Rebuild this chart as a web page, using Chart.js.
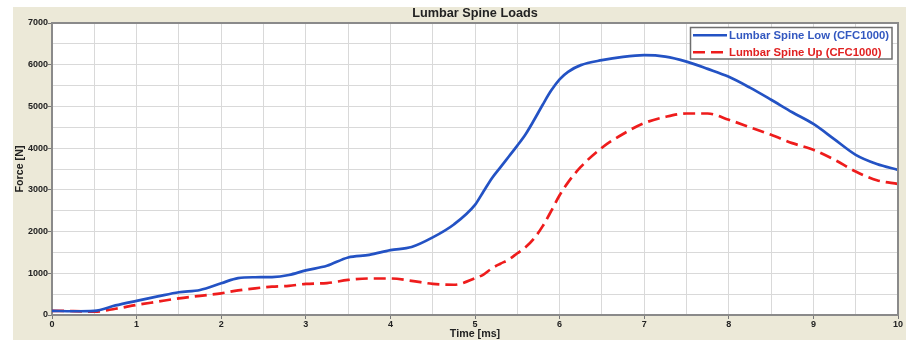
<!DOCTYPE html>
<html>
<head>
<meta charset="utf-8">
<script src="https://cdn.jsdelivr.net/npm/chart.js@4/dist/chart.umd.min.js"></script>
<style>
  html, body { margin: 0; padding: 0; background: #ffffff; }
  #panel { position: absolute; left: 13px; top: 7px; width: 893px; height: 333px; background: #ece9d8; }
  canvas { display: block; }
</style>
</head>
<body>
<div id="panel"><canvas id="chart" width="893" height="333"></canvas></div>
<script>
// Sample times (ms) shared by both load channels
const timeMs = [0, 0.25, 0.5, 0.75, 1, 1.25, 1.5, 1.75, 2, 2.2, 2.4, 2.6, 2.8, 3, 3.25, 3.5, 3.75, 4, 4.25, 4.5, 4.75,
  5, 5.1, 5.2, 5.3, 5.4, 5.5, 5.6, 5.7, 5.8, 5.9, 6, 6.1, 6.25, 6.5, 6.75, 7, 7.25, 7.5, 7.75, 8, 8.25, 8.5, 8.75,
  9, 9.25, 9.5, 9.75, 10];

// Lumbar spine lower load cell, force in N
const lowForce = [100, 90, 100, 230, 340, 445, 545, 600, 760, 885, 905, 910, 960, 1070, 1180, 1380, 1440, 1555, 1630, 1860, 2170,
  2640, 2960, 3280, 3540, 3800, 4060, 4340, 4680, 5040, 5380, 5650, 5830, 5990, 6110, 6190, 6230, 6195, 6075, 5900, 5710, 5450, 5160, 4860,
  4580, 4210, 3840, 3620, 3480];

// Lumbar spine upper load cell, force in N
const upForce = [100, 95, 80, 150, 240, 320, 400, 460, 520, 590, 640, 680, 700, 745, 765, 840, 875, 875, 820, 745, 725,
  880, 970, 1120, 1230, 1330, 1480, 1630, 1840, 2130, 2490, 2870, 3180, 3550, 4010, 4340, 4600, 4750, 4830, 4830, 4680, 4500, 4320, 4120,
  3960, 3720, 3440, 3230, 3140];

const seriesLabels = ['Lumbar Spine Low (CFC1000)', 'Lumbar Spine Up (CFC1000)'];
const chartTitle = 'Lumbar Spine Loads';
const xTitle = 'Time [ms]';
const yTitle = 'Force [N]';

const FONT = '"Liberation Sans", Arial, sans-serif';

const toPoints = (ys) => timeMs.map((t, i) => ({ x: t, y: ys[i] }));

// White plot background, plot frame, title and boxed legend
const framePlugin = {
  id: 'frame',
  beforeDraw(chart) {
    const { ctx, chartArea: a } = chart;
    ctx.save();
    ctx.fillStyle = '#ffffff';
    ctx.fillRect(a.left, a.top, a.right - a.left, a.bottom - a.top);
    ctx.restore();
  },
  afterDraw(chart) {
    const { ctx, chartArea: a } = chart;
    ctx.save();
    // top and right edges of the plot frame
    ctx.strokeStyle = '#8a8a8a';
    ctx.lineWidth = 2;
    ctx.beginPath();
    ctx.moveTo(a.left, a.top);
    ctx.lineTo(a.right, a.top);
    ctx.lineTo(a.right, a.bottom);
    ctx.stroke();

    // title
    ctx.fillStyle = '#222222';
    ctx.font = 'bold 12.7px ' + FONT;
    ctx.textAlign = 'center';
    ctx.textBaseline = 'middle';
    ctx.fillText(chartTitle, (a.left + a.right) / 2, 6.5);

    // legend box
    const bx = 677.5, by = 20.5, bw = 201.5, bh = 31.5;
    ctx.fillStyle = '#ffffff';
    ctx.fillRect(bx, by, bw, bh);
    ctx.strokeStyle = '#6e6e6e';
    ctx.lineWidth = 1.5;
    ctx.strokeRect(bx, by, bw, bh);

    const rows = [28.3, 45.2];
    const textColors = ['#3358c0', '#e02020'];
    chart.data.datasets.forEach((ds, i) => {
      const y = rows[i];
      ctx.strokeStyle = ds.borderColor;
      ctx.lineWidth = 2.5;
      ctx.setLineDash(ds.borderDash || []);
      ctx.beginPath();
      ctx.moveTo(680, y);
      ctx.lineTo(714, y);
      ctx.stroke();
      ctx.setLineDash([]);
      ctx.fillStyle = textColors[i];
      ctx.font = 'bold 11.3px ' + FONT;
      ctx.textAlign = 'left';
      ctx.textBaseline = 'middle';
      ctx.fillText(ds.label, 716, y + 0.5);
    });
    ctx.restore();
  }
};

new Chart(document.getElementById('chart'), {
  type: 'line',
  data: {
    datasets: [
      {
        label: seriesLabels[0],
        data: toPoints(lowForce),
        borderColor: '#2352c4',
        borderWidth: 2.7,
        pointRadius: 0,
        cubicInterpolationMode: 'monotone',
        fill: false
      },
      {
        label: seriesLabels[1],
        data: toPoints(upForce),
        borderColor: '#ee1c1c',
        borderWidth: 2.7,
        borderDash: [12, 6],
        pointRadius: 0,
        cubicInterpolationMode: 'monotone',
        fill: false
      }
    ]
  },
  options: {
    responsive: false,
    animation: false,
    layout: { padding: { top: 16, right: 8, left: 0, bottom: 0 } },
    plugins: {
      legend: { display: false },
      title: { display: false },
      tooltip: { enabled: false }
    },
    scales: {
      x: {
        type: 'linear',
        min: 0,
        max: 10,
        afterFit(scale) { scale.height = 25; },
        ticks: {
          stepSize: 0.5,
          autoSkip: false,
          maxRotation: 0,
          padding: 0,
          color: '#222222',
          font: { family: FONT, size: 9, weight: 'bold' },
          callback: (v) => Number.isInteger(v) ? String(v) : ''
        },
        grid: {
          color: '#d9d9d9',
          lineWidth: 1,
          tickLength: 4,
          tickColor: (c) => (c.tick && Number.isInteger(c.tick.value)) ? '#777777' : 'rgba(0,0,0,0)'
        },
        border: { display: true, color: '#8a8a8a', width: 2 },
        title: {
          display: true,
          text: xTitle,
          color: '#222222',
          padding: { top: 0, bottom: 0 },
          font: { family: FONT, size: 10.7, weight: 'bold' }
        }
      },
      y: {
        min: 0,
        max: 7000,
        afterFit(scale) { scale.width = 39; },
        ticks: {
          stepSize: 500,
          autoSkip: false,
          padding: 0,
          color: '#222222',
          font: { family: FONT, size: 9, weight: 'bold' },
          callback: (v) => v % 1000 === 0 ? String(v) : ''
        },
        grid: {
          color: '#d9d9d9',
          lineWidth: 1,
          tickLength: 4,
          tickColor: (c) => (c.tick && c.tick.value % 1000 === 0) ? '#777777' : 'rgba(0,0,0,0)'
        },
        border: { display: true, color: '#8a8a8a', width: 2 },
        title: {
          display: true,
          text: yTitle,
          color: '#222222',
          padding: { top: 1, bottom: 0 },
          font: { family: FONT, size: 10.7, weight: 'bold' }
        }
      }
    }
  },
  plugins: [framePlugin]
});
</script>
</body>
</html>
